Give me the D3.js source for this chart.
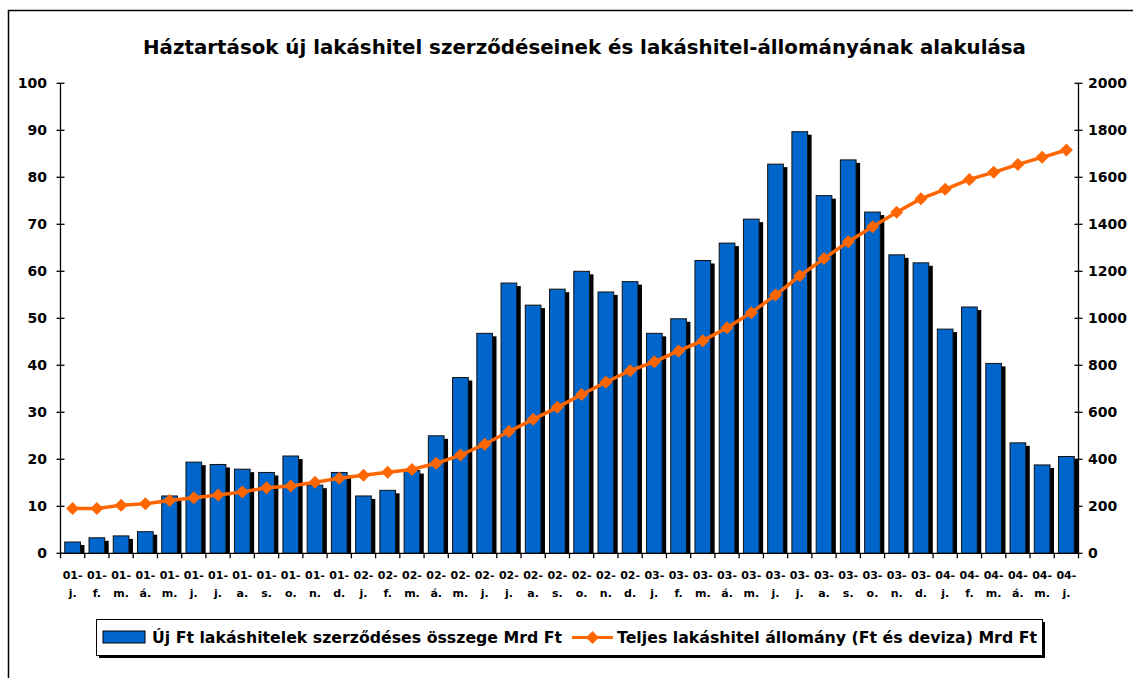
<!DOCTYPE html>
<html>
<head>
<meta charset="utf-8">
<script src="https://cdn.jsdelivr.net/npm/d3@7"></script>
<style>
  html, body { margin: 0; padding: 0; background: #fff; }
  svg { display: block; font-family: "DejaVu Sans", sans-serif; font-weight: bold; }
</style>
</head>
<body>
<div id="chart"></div>
<script>
// hónapok (év-hónap)
const years = ['01','01','01','01','01','01','01','01','01','01','01','01',
               '02','02','02','02','02','02','02','02','02','02','02','02',
               '03','03','03','03','03','03','03','03','03','03','03','03',
               '04','04','04','04','04','04'];
const months = ['j.','f.','m.','á.','m.','j.','j.','a.','s.','o.','n.','d.',
                'j.','f.','m.','á.','m.','j.','j.','a.','s.','o.','n.','d.',
                'j.','f.','m.','á.','m.','j.','j.','a.','s.','o.','n.','d.',
                'j.','f.','m.','á.','m.','j.'];

// új Ft lakáshitelek szerződéses összege (Mrd Ft)
const newLoans = [2.4, 3.3, 3.7, 4.6, 12.2, 19.4, 18.9, 17.9, 17.2, 20.7, 14.5, 17.2,
                  12.2, 13.4, 17.6, 25.0, 37.4, 46.8, 57.5, 52.8, 56.2, 60.0, 55.6, 57.8,
                  46.8, 49.9, 62.3, 66.0, 71.1, 82.8, 89.7, 76.1, 83.7, 72.6, 63.5, 61.8,
                  47.7, 52.4, 40.4, 23.5, 18.8, 20.6];

// teljes lakáshitel állomány (Mrd Ft)
const stock = [191, 191, 204, 211, 225, 236, 248, 261, 279, 286, 302, 319,
               332, 345, 357, 383, 418, 464, 518, 570, 621, 676, 728, 777,
               815, 861, 905, 960, 1024, 1099, 1181, 1254, 1326, 1390, 1451, 1509,
               1549, 1591, 1621, 1655, 1685, 1716];

const leftTicks = [0, 10, 20, 30, 40, 50, 60, 70, 80, 90, 100];
const rightTicks = [0, 200, 400, 600, 800, 1000, 1200, 1400, 1600, 1800, 2000];

const barLabel = 'Új Ft lakáshitelek szerződéses összege Mrd Ft';
const lineLabel = 'Teljes lakáshitel állomány (Ft és deviza) Mrd Ft';
const title = 'Háztartások új lakáshitel szerződéseinek és lakáshitel-állományának alakulása';

const W = 1133, H = 678;
const plot = { left: 60.5, right: 1078.5, top: 83.3, bottom: 553.3 };

const svg = d3.select('#chart').append('svg')
    .attr('width', W)
    .attr('height', H);

// keret
svg.append('rect')
    .attr('x', 8.5).attr('y', 10.5)
    .attr('width', W + 10).attr('height', H + 10)
    .attr('fill', 'none')
    .attr('stroke', '#000')
    .attr('stroke-width', 1.5);

// cím
svg.append('text')
    .attr('x', 143).attr('y', 54)
    .attr('font-size', 20)
    .attr('textLength', 883)
    .attr('lengthAdjust', 'spacingAndGlyphs')
    .text(title);

const idx = d3.range(newLoans.length);
const x = d3.scaleBand().domain(idx).range([plot.left, plot.right]).padding(0);
const yL = d3.scaleLinear().domain([0, 100]).range([plot.bottom, plot.top]);
const yR = d3.scaleLinear().domain([0, 2000]).range([plot.bottom, plot.top]);

const barW = 15.7;
const shX = 4, shY = 3;

// oszlopok árnyéka
svg.append('g').selectAll('rect')
    .data(idx)
    .join('rect')
    .attr('x', i => x(i) + x.bandwidth() / 2 - barW / 2 + shX)
    .attr('y', i => yL(newLoans[i]) + shY)
    .attr('width', barW)
    .attr('height', i => Math.max(0, plot.bottom - yL(newLoans[i]) - shY))
    .attr('fill', '#000');

// oszlopok
svg.append('g').selectAll('rect')
    .data(idx)
    .join('rect')
    .attr('x', i => x(i) + x.bandwidth() / 2 - barW / 2)
    .attr('y', i => yL(newLoans[i]))
    .attr('width', barW)
    .attr('height', i => plot.bottom - yL(newLoans[i]))
    .attr('fill', '#0066CC')
    .attr('stroke', '#111')
    .attr('stroke-width', 1);

// tengelyek
const axisG = svg.append('g').attr('stroke', '#000').attr('stroke-width', 1.3);
axisG.append('line').attr('x1', plot.left).attr('x2', plot.left).attr('y1', plot.top).attr('y2', plot.bottom);
axisG.append('line').attr('x1', plot.right).attr('x2', plot.right).attr('y1', plot.top).attr('y2', plot.bottom);
axisG.append('line').attr('x1', plot.left).attr('x2', plot.right).attr('y1', plot.bottom).attr('y2', plot.bottom);

axisG.selectAll('.lt').data(leftTicks).join('line')
    .attr('x1', plot.left - 4).attr('x2', plot.left + 4)
    .attr('y1', d => yL(d)).attr('y2', d => yL(d));
axisG.selectAll('.rt').data(rightTicks).join('line')
    .attr('x1', plot.right - 4).attr('x2', plot.right + 4)
    .attr('y1', d => yR(d)).attr('y2', d => yR(d));
axisG.selectAll('.xt').data(d3.range(newLoans.length + 1)).join('line')
    .attr('x1', i => plot.left + i * x.bandwidth())
    .attr('x2', i => plot.left + i * x.bandwidth())
    .attr('y1', plot.bottom).attr('y2', plot.bottom + 5);

svg.append('g').selectAll('text')
    .data(leftTicks)
    .join('text')
    .attr('x', 47).attr('y', d => yL(d) + 5)
    .attr('text-anchor', 'end')
    .attr('font-size', 14)
    .text(d => d);

svg.append('g').selectAll('text')
    .data(rightTicks)
    .join('text')
    .attr('x', 1088).attr('y', d => yR(d) + 5)
    .attr('font-size', 14)
    .text(d => d);

// x tengely feliratai
const xl = svg.append('g').attr('font-size', 11).attr('text-anchor', 'middle');
xl.selectAll('.yr').data(idx).join('text')
    .attr('x', i => x(i) + x.bandwidth() / 2)
    .attr('y', 579)
    .text(i => years[i] + '-');
xl.selectAll('.mo').data(idx).join('text')
    .attr('x', i => x(i) + x.bandwidth() / 2)
    .attr('y', 597)
    .text(i => months[i]);

// vonal
const diamond = 'M0,-6.5L6.5,0L0,6.5L-6.5,0Z';
svg.append('path')
    .datum(idx)
    .attr('fill', 'none')
    .attr('stroke', '#FF6600')
    .attr('stroke-width', 3.5)
    .attr('d', d3.line().x(i => x(i) + x.bandwidth() / 2).y(i => yR(stock[i])));

svg.append('g').selectAll('path')
    .data(idx)
    .join('path')
    .attr('transform', i => `translate(${x(i) + x.bandwidth() / 2},${yR(stock[i])})`)
    .attr('d', diamond)
    .attr('fill', '#FF6600');

// jelmagyarázat
const lg = svg.append('g');
lg.append('rect').attr('x', 99).attr('y', 622).attr('width', 946).attr('height', 36).attr('fill', '#000');
lg.append('rect').attr('x', 96.5).attr('y', 619.5).attr('width', 946).attr('height', 36)
    .attr('fill', '#fff').attr('stroke', '#000').attr('stroke-width', 1);
lg.append('rect').attr('x', 103).attr('y', 631).attr('width', 42).attr('height', 12)
    .attr('fill', '#0066CC').attr('stroke', '#000').attr('stroke-width', 1);
lg.append('text').attr('x', 152).attr('y', 643).attr('font-size', 15)
    .attr('textLength', 410).attr('lengthAdjust', 'spacingAndGlyphs').text(barLabel);
lg.append('line').attr('x1', 572).attr('x2', 613).attr('y1', 637.5).attr('y2', 637.5)
    .attr('stroke', '#FF6600').attr('stroke-width', 3);
lg.append('path').attr('transform', 'translate(592.5,637.5)').attr('d', diamond).attr('fill', '#FF6600');
lg.append('text').attr('x', 617).attr('y', 643).attr('font-size', 15)
    .attr('textLength', 420).attr('lengthAdjust', 'spacingAndGlyphs').text(lineLabel);
</script>
</body>
</html>
